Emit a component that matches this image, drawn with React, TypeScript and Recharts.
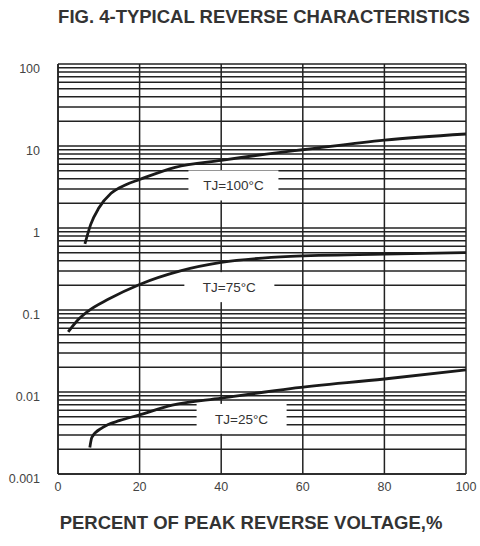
import React from 'react';
import { LineChart, Line, XAxis, YAxis, CartesianGrid, ReferenceDot } from 'recharts';

// percent of peak reverse voltage
const tj100X = [6.6, 8, 10, 13, 16.5, 20, 28.7, 40, 54, 60, 80, 100];
const tj100Y = [0.64, 1.1, 1.75, 2.65, 3.35, 3.9, 5.5, 6.7, 8.3, 9.0, 11.8, 14];

const tj75X = [2.5, 4.7, 7.4, 12.3, 20, 30, 40, 57, 80, 100];
const tj75Y = [0.054, 0.074, 0.097, 0.135, 0.205, 0.3, 0.38, 0.45, 0.48, 0.5];

const tj25X = [7.8, 8.3, 11, 15.2, 19.6, 28, 40, 57, 80, 100];
const tj25Y = [0.0021, 0.0028, 0.0037, 0.0045, 0.0052, 0.0069, 0.0084, 0.011, 0.0144, 0.0186];

const xTicks = [0, 20, 40, 60, 80, 100];
const decades = [0.001, 0.01, 0.1, 1, 10];
const decadeLabels = ['0.001', '0.01', '0.1', '1', '10', '100'];
const mantissas = [1, 2, 3, 4, 5, 6, 7, 8, 9];

const labelText = ['TJ=100°C', 'TJ=75°C', 'TJ=25°C'];
const labelX = [43, 42, 45];
const labelY = [3.3, 0.19, 0.0047];

const toRows = (xs: number[], ys: number[]) => xs.map((x, i) => ({ x, y: ys[i] }));

const yTicks: number[] = [];
decades.forEach((d) => mantissas.forEach((m) => yTicks.push(+(d * m).toPrecision(3))));
yTicks.push(100);

const fmtY = (v: number) => {
  const all = [...decades, 100];
  const i = all.findIndex((d) => Math.abs(d - v) < d * 1e-6);
  return i >= 0 ? decadeLabels[i] : '';
};

const font = 'Arial, "Liberation Sans", sans-serif';

const LabelBox = (text: string) => (props: any) => {
  const { cx, cy } = props;
  return (
    <g>
      <rect x={cx - 45} y={cy - 15} width={90} height={30} fill="#fff" />
      <text x={cx} y={cy} dy={5} textAnchor="middle" fontSize={13.5} fontFamily={font} fill="#333">
        {text}
      </text>
    </g>
  );
};

export default function App() {
  const series = [toRows(tj100X, tj100Y), toRows(tj75X, tj75Y), toRows(tj25X, tj25Y)];
  return (
    <div style={{ position: 'absolute', left: 0, top: 0, width: 480, height: 546, background: '#fff' }}>
      <div
        style={{
          position: 'absolute', left: 44, top: 6, width: 440, textAlign: 'center',
          fontFamily: font, fontWeight: 'bold', fontSize: 18.5, color: '#333',
        }}
      >
        FIG. 4-TYPICAL REVERSE CHARACTERISTICS
      </div>
      <LineChart width={480} height={546} margin={{ top: 64, right: 14, left: 8, bottom: 42 }}>
        <CartesianGrid stroke="#222" strokeWidth={1.5} />
        <XAxis
          type="number"
          dataKey="x"
          domain={[0, 100]}
          ticks={xTicks}
          interval={0}
          tickLine={false}
          axisLine={{ stroke: '#222', strokeWidth: 1.5 }}
          tick={{ fontSize: 12.5, fill: '#444', fontFamily: font }}
          height={30}
        />
        <YAxis
          type="number"
          scale="log"
          domain={[0.001, 100]}
          allowDataOverflow
          ticks={yTicks}
          interval={0}
          tickFormatter={fmtY}
          tickLine={false}
          tickMargin={12}
          axisLine={{ stroke: '#222', strokeWidth: 1.5 }}
          tick={{ fontSize: 12.5, fill: '#444', fontFamily: font, dy: 5 }}
          width={50}
        />
        {series.map((d, i) => (
          <Line
            key={i}
            data={d}
            dataKey="y"
            type="monotone"
            stroke="#1a1a1a"
            strokeWidth={2.8}
            dot={false}
            isAnimationActive={false}
          />
        ))}
        {labelText.map((t, i) => (
          <ReferenceDot key={t} x={labelX[i]} y={labelY[i]} r={0} shape={LabelBox(t)} />
        ))}
      </LineChart>
      <div
        style={{
          position: 'absolute', left: 31, top: 512, width: 440, textAlign: 'center',
          fontFamily: font, fontWeight: 'bold', fontSize: 18.5, color: '#333',
        }}
      >
        PERCENT OF PEAK REVERSE VOLTAGE,%
      </div>
    </div>
  );
}
